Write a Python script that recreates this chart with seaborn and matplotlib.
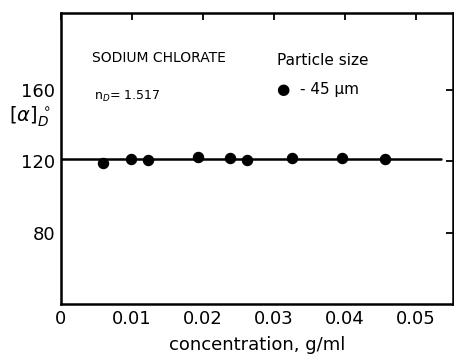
import pandas as pd
import seaborn as sns
import matplotlib.pyplot as plt

# data
concentration = [0.0059, 0.0099, 0.0122, 0.0193, 0.0238, 0.0262, 0.0326, 0.0396, 0.0456]
rotation = [119.0, 121.3, 120.5, 122.4, 121.9, 120.5, 121.5, 122.0, 121.1]
fit_x = [0.0, 0.0535]
fit_y = [121.0, 121.0]
x_ticks = [0, 0.01, 0.02, 0.03, 0.04, 0.05]
x_labels = ["0", "0.01", "0.02", "0.03", "0.04", "0.05"]
y_ticks = [80, 120, 160]
y_labels = ["80", "120", "160"]

df = pd.DataFrame({"c": concentration, "alpha": rotation})
fit = pd.DataFrame({"c": fit_x, "alpha": fit_y})

sns.set_style("white")
plt.rcParams["font.family"] = ["DejaVu Sans"]
plt.rcParams["text.color"] = "black"
plt.rcParams["axes.labelcolor"] = "black"

fig = plt.figure(figsize=(4.54, 3.61), dpi=100)
ax = fig.add_axes([0.134, 0.158, 0.864, 0.806])

sns.lineplot(data=fit, x="c", y="alpha", color="black", linewidth=1.8, ax=ax)
sns.scatterplot(data=df, x="c", y="alpha", color="black", s=55, edgecolor="black",
                linewidth=0.8, ax=ax, zorder=3)

ax.set_xlim(0, 0.0552)
ax.set_ylim(40, 203)
ax.set_xticks(x_ticks)
ax.set_xticklabels(x_labels)
ax.set_yticks(y_ticks)
ax.set_yticklabels(y_labels)
ax.tick_params(direction="in", length=5, width=1.3, labelsize=13, colors="black",
               top=True, right=True, pad=4)
for s in ax.spines.values():
    s.set_linewidth(1.8)
    s.set_color("black")

ax.set_xlabel("concentration, g/ml", fontsize=13, labelpad=6)
ax.set_ylabel(r"$[\alpha]_D^{\,\circ}$", fontsize=14, rotation=0)
ax.yaxis.set_label_coords(-0.08, 0.6)

ax.text(0.08, 0.83, "SODIUM CHLORATE", transform=ax.transAxes, fontsize=10)
ax.text(0.085, 0.70, r"n$_D$= 1.517", transform=ax.transAxes, fontsize=9)
ax.text(0.55, 0.82, "Particle size", transform=ax.transAxes, fontsize=11)
ax.text(0.55, 0.72, "●  - 45 μm", transform=ax.transAxes, fontsize=11)

plt.savefig("out.png", dpi=100)
